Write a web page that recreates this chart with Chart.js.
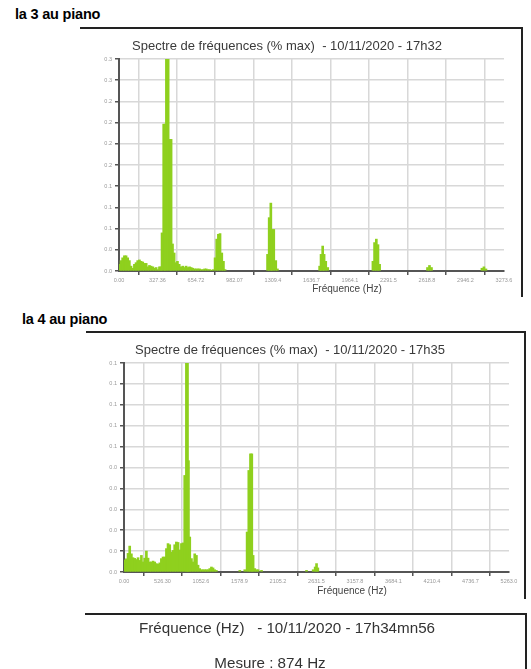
<!DOCTYPE html>
<html>
<head>
<meta charset="utf-8">
<script src="https://cdn.jsdelivr.net/npm/chart.js@4.4.0/dist/chart.umd.min.js"></script>
<style>
  body { margin: 0; background: #fff; font-family: "Liberation Sans", Arial, sans-serif; }
  .abs { position: absolute; }
  .heading { font-weight: bold; font-size: 14.5px; color: #000; letter-spacing: -0.2px; }
  .frame { position: absolute; border-top: 2px solid #222; border-right: 2px solid #222; }
  .axis-title { font-size: 10px; color: #444; white-space: nowrap; transform: translate(-50%, -50%); }
  .note { font-size: 15.2px; color: #333; white-space: nowrap; transform: translate(-50%, -50%); }
</style>
</head>
<body>
<div class="abs heading" style="left:15px;top:6px">la 3 au piano</div>
<div class="frame" style="left:80px;top:27px;width:441px;height:268px"></div>
<div class="abs" style="left:55px;top:33px;width:462px;height:253px"><canvas id="spectre1"></canvas></div>
<div class="abs axis-title" style="left:347px;top:288px">Fréquence (Hz)</div>

<div class="abs heading" style="left:22px;top:311px">la 4 au piano</div>
<div class="frame" style="left:86px;top:331px;width:438px;height:266px"></div>
<div class="abs" style="left:50px;top:337px;width:472px;height:250px"><canvas id="spectre2"></canvas></div>
<div class="abs axis-title" style="left:352px;top:590px">Fréquence (Hz)</div>

<div class="frame" style="left:85px;top:613px;width:440px;height:70px"></div>
<div class="abs note" style="left:287px;top:627px">Fréquence (Hz)&nbsp;&nbsp; - 10/11/2020 - 17h34mn56</div>
<div class="abs note" style="left:270px;top:662px">Mesure : 874 Hz</div>

<script>
// la 3 : spectre
const freq1 = [3, 17, 31, 46, 60, 74, 88, 102, 117, 131,
  145, 159, 174, 188, 202, 216, 231, 245, 259, 273,
  288, 302, 316, 330, 344, 355, 366, 380, 392, 403,
  418, 432, 443, 455, 469, 483, 497, 512, 529, 543,
  557, 571, 586, 600, 614, 628, 643, 657, 671, 685,
  700, 714, 728, 742, 757, 771, 785, 800, 817, 831,
  845, 859, 874, 888, 902, 1263, 1277, 1291, 1302, 1316,
  1333, 1347, 1706, 1718, 1732, 1744, 1758, 1775, 2159, 2173,
  2188, 2202, 2216, 2623, 2640, 2657, 3086, 3103, 3120];
const amp1 = [0.0096, 0.015, 0.019, 0.022, 0.022, 0.019, 0.015, 0.007, 0.004, 0.0096,
  0.012, 0.015, 0.016, 0.014, 0.013, 0.011, 0.011, 0.006, 0.008, 0.007,
  0.006, 0.004, 0.005, 0.002, 0.006, 0.006, 0.055, 0.212, 0.212, 0.306,
  0.306, 0.19, 0.19, 0.039, 0.026, 0.012, 0.014, 0.0096, 0.006, 0.007,
  0.005, 0.007, 0.005, 0.006, 0.005, 0.004, 0.003, 0.003, 0.003, 0.003,
  0.002, 0.002, 0.003, 0.003, 0.002, 0.002, 0.001, 0.002, 0.019, 0.046,
  0.053, 0.054, 0.026, 0.014, 0.002, 0.024, 0.077, 0.098, 0.06, 0.06,
  0.015, 0.003, 0.007, 0.024, 0.036, 0.024, 0.014, 0.005, 0.014, 0.041,
  0.046, 0.038, 0.0096, 0.005, 0.008, 0.005, 0.004, 0.006, 0.003];
const xTicks1 = [0, 327.36, 654.72, 982.07, 1309.4, 1636.7, 1964.1, 2291.5, 2618.8, 2946.2, 3273.6];
const xLabels1 = ["0.00", "327.36", "654.72", "982.07", "1309.4", "1636.7", "1964.1", "2291.5", "2618.8", "2946.2", "3273.6"];
const yTicks1 = [0, 0.0306, 0.0612, 0.0918, 0.1224, 0.153, 0.1836, 0.2142, 0.2448, 0.2754, 0.306];
const yLabels1 = ["0.0", "0.0", "0.1", "0.1", "0.1", "0.2", "0.2", "0.2", "0.2", "0.3", "0.3"];

// la 4
const freq2 = [10, 33, 55, 78, 101, 123, 146, 169, 192, 215,
  238, 260, 283, 306, 329, 352, 374, 397, 420, 443,
  465, 488, 511, 534, 557, 580, 602, 625, 648, 671,
  693, 716, 739, 762, 785, 807, 830, 853, 868, 881,
  899, 922, 944, 967, 990, 1012, 1035, 1058, 1081, 1104,
  1127, 1149, 1172, 1195, 1217, 1240, 1263, 1583, 1651, 1683,
  1706, 1729, 1747, 1765, 1788, 1811, 1833, 1880, 2495, 2586,
  2613, 2632, 2650];
const amp2 = [0.0053, 0.0058, 0.0082, 0.0114, 0.008, 0.0063, 0.006, 0.0055, 0.0063, 0.0051,
  0.0073, 0.0044, 0.0061, 0.0092, 0.0061, 0.0044, 0.0044, 0.0048, 0.0044, 0.0037,
  0.0034, 0.004, 0.0059, 0.0066, 0.0066, 0.0103, 0.0125, 0.012, 0.0088, 0.0095,
  0.012, 0.0132, 0.013, 0.0097, 0.0125, 0.0128, 0.0425, 0.092, 0.092, 0.049,
  0.0154, 0.0059, 0.0044, 0.008, 0.0073, 0.003, 0.0015, 0.001, 0.001, 0.001,
  0.001, 0.001, 0.0015, 0.0022, 0.0018, 0.001, 0.0007, 0.0007, 0.001, 0.0176,
  0.0447, 0.052, 0.052, 0.0073, 0.0015, 0.001, 0.001, 0.0007, 0.0007, 0.001,
  0.0022, 0.0037, 0.0018];
const xTicks2 = [0, 526.30, 1052.6, 1578.9, 2105.2, 2631.5, 3157.8, 3684.1, 4210.4, 4736.7, 5263.0];
const xLabels2 = ["0.00", "526.30", "1052.6", "1578.9", "2105.2", "2631.5", "3157.8", "3684.1", "4210.4", "4736.7", "5263.0"];
const yTicks2 = [0, 0.0092, 0.0184, 0.0276, 0.0368, 0.046, 0.0552, 0.0644, 0.0736, 0.0828, 0.092];
const yLabels2 = ["0.0", "0.0", "0.0", "0.0", "0.0", "0.0", "0.1", "0.1", "0.1", "0.1", "0.1"];

function spectre(id, freqs, amps, xTicks, xLabels, yTicks, yLabels, title, box) {
  return new Chart(document.getElementById(id), {
    type: 'bar',
    data: {
      datasets: [{
        data: freqs.map((f, i) => ({ x: f, y: amps[i] })),
        backgroundColor: '#8fd01e',
        borderWidth: 0,
        barThickness: 2
      }]
    },
    options: {
      responsive: true,
      maintainAspectRatio: false,
      animation: false,
      layout: { padding: { left: box.padLeft, right: box.right, top: 0, bottom: 0 } },
      plugins: {
        legend: { display: false },
        tooltip: { enabled: false },
        title: {
          display: true,
          text: title,
          color: '#3a3a3a',
          font: { size: 13, family: 'Liberation Sans', weight: 'normal' },
          padding: { top: 5.5, bottom: 4.9 }
        }
      },
      scales: {
        x: {
          type: 'linear',
          min: 0,
          max: xTicks[xTicks.length - 1],
          offset: false,
          afterBuildTicks: s => { s.ticks = xTicks.map(v => ({ value: v })); },
          afterFit: s => { s.height = box.bottom; },
          ticks: {
            autoSkip: false, maxRotation: 0, padding: 2,
            callback: (v, i) => xLabels[i],
            color: '#999', font: { size: 5.5, family: 'Liberation Sans' }
          },
          grid: { color: '#d8d8d8', lineWidth: 1.5, tickColor: '#555', tickLength: 4 },
          border: { color: '#555', width: 2 }
        },
        y: {
          min: 0,
          max: yTicks[yTicks.length - 1],
          afterBuildTicks: s => { s.ticks = yTicks.map(v => ({ value: v })); },
          afterFit: s => { s.width = box.left; },
          ticks: {
            padding: 3,
            callback: (v, i) => yLabels[i],
            color: '#999', font: { size: 5.5, family: 'Liberation Sans' }
          },
          grid: { color: '#d8d8d8', lineWidth: 1.5, tickColor: '#555', tickLength: 4 },
          border: { color: '#555', width: 2 }
        }
      }
    }
  });
}

spectre('spectre1', freq1, amp1, xTicks1, xLabels1, yTicks1, yLabels1,
  'Spectre de fréquences (% max)  - 10/11/2020 - 17h32', { padLeft: 15, left: 49, right: 13, bottom: 15 });
spectre('spectre2', freq2, amp2, xTicks2, xLabels2, yTicks2, yLabels2,
  'Spectre de fréquences (% max)  - 10/11/2020 - 17h35', { padLeft: 21, left: 53, right: 13, bottom: 15 });
</script>
</body>
</html>
